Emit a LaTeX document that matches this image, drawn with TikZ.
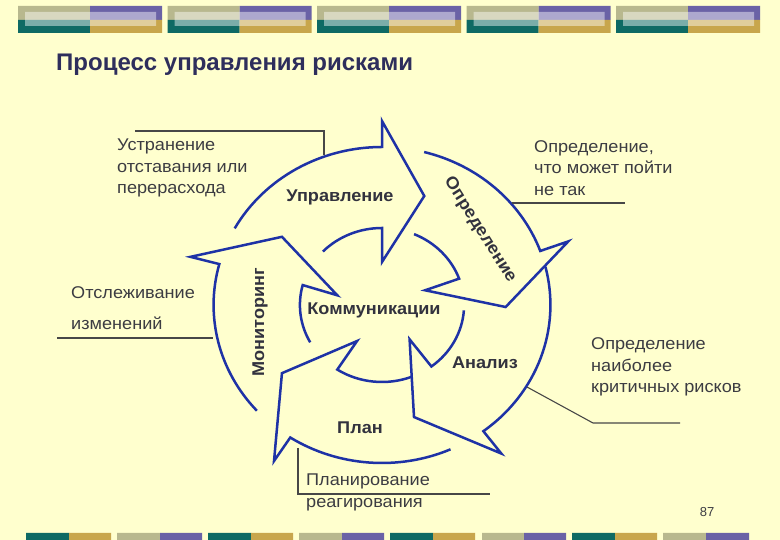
\documentclass[tikz,border=0pt]{standalone}
\usepackage{fontspec}
\setmainfont{Liberation Sans}
\newfontfamily\widefont[FakeStretch=1.066]{Liberation Sans}
\definecolor{slidebg}{RGB}{255,255,206}
\definecolor{arrowblue}{RGB}{30,50,166}
\definecolor{titlenavy}{RGB}{46,46,92}
\definecolor{notegray}{RGB}{60,60,66}
\definecolor{labelgray}{RGB}{50,50,62}
\definecolor{barsage}{RGB}{184,184,142}
\definecolor{barteal}{RGB}{14,106,100}
\definecolor{barpurple}{RGB}{106,98,166}
\definecolor{bargold}{RGB}{200,166,76}
\tikzset{
    x=1pt, y=1pt, % one unit is one pixel of the slide
    riskarrow/.style={draw=arrowblue, line width=2.5pt, line join=miter}, % the curved block arrows
    stage/.style={text=labelgray, font=\widefont\bfseries\fontsize{17}{20}\selectfont, inner sep=0pt}, % names of the stages
    note/.style={text=notegray, font=\widefont\fontsize{17}{21.5}\selectfont, align=left, inner sep=0pt}, % explanations round the cycle
    leader/.style={draw=black!72, line width=1.1pt}, % lines from the explanations
}
\begin{document}
\begin{tikzpicture}
\useasboundingbox (0,0) rectangle (780,540);
\fill[slidebg] (0,0) rectangle (780,540);
% top bar
\fill[barsage] (18,520) rectangle (90,534) (167.5,520) rectangle (239.5,534) (317,520) rectangle (389,534) (466.5,520) rectangle (538.5,534) (616,520) rectangle (688,534);
\fill[barteal] (18,507) rectangle (90,520) (167.5,507) rectangle (239.5,520) (317,507) rectangle (389,520) (466.5,507) rectangle (538.5,520) (616,507) rectangle (688,520);
\fill[barpurple] (90,520) rectangle (162,534) (239.5,520) rectangle (311.5,534) (389,520) rectangle (461,534) (538.5,520) rectangle (610.5,534) (688,520) rectangle (760,534);
\fill[bargold] (90,507) rectangle (162,520) (239.5,507) rectangle (311.5,520) (389,507) rectangle (461,520) (538.5,507) rectangle (610.5,520) (688,507) rectangle (760,520);
\fill[white, fill opacity=0.45] (25,514) rectangle (156,528) (174.5,514) rectangle (305.5,528) (324,514) rectangle (455,528) (473.5,514) rectangle (604.5,528) (623,514) rectangle (754,528);
% bottom bar
\fill[barteal] (26,0) rectangle (69,7) (208,0) rectangle (251,7) (390,0) rectangle (433,7) (572,0) rectangle (615,7);
\fill[bargold] (69,0) rectangle (111,7) (251,0) rectangle (293,7) (433,0) rectangle (475,7) (615,0) rectangle (657,7);
\fill[barsage] (117,0) rectangle (160,7) (299,0) rectangle (342,7) (482,0) rectangle (524,7) (663,0) rectangle (706,7);
\fill[barpurple] (160,0) rectangle (202,7) (342,0) rectangle (384,7) (524,0) rectangle (566,7) (706,0) rectangle (749,7);

\node[anchor=base west, text=titlenavy, font=\bfseries\fontsize{24}{28}\selectfont, inner sep=0pt] (title) at (56,469) {Процесс управления рисками};

% the cycle
\begin{scope}[shift={(382,235)}, xscale=1.066]
\draw[riskarrow] (151:158) arc[start angle=151, end angle=90, radius=158] -- (90:184) -- (70:116) -- (90:43) -- (90:77) arc[start angle=90, end angle=136, radius=77];
\draw[riskarrow] (75.5:158) arc[start angle=75.5, end angle=20, radius=158] -- (20:186) -- (-1:116) -- (20:43) -- (20:77) arc[start angle=20, end angle=67, radius=77];
\draw[riskarrow] (14:158) arc[start angle=14, end angle=-53, radius=158] -- (-53:186) -- (-75:116) -- (-53:43) -- (-53:77) arc[start angle=-53, end angle=-4, radius=77];
\draw[riskarrow] (-66:158) arc[start angle=-66, end angle=-123, radius=158] -- (-123:186) -- (-144:116) -- (-123:43) -- (-123:77) arc[start angle=-123, end angle=-69, radius=77];
\draw[riskarrow] (222:158) arc[start angle=222, end angle=165, radius=158] -- (165:186) -- (144:116) -- (167:43) -- (165:77) arc[start angle=165, end angle=209, radius=77];
\end{scope}

\node[stage] (manage) at (340,343) {Управление};
\node[stage, rotate=-57.7] (identify) at (480,310) {Определение};
\node[stage] (comm) at (374,230) {Коммуникации};
\node[stage] (analysis) at (485,177) {Анализ};
\node[stage] (plan) at (360,112) {План};
\node[stage, rotate=90] (monitor) at (260,218) {Мониторинг};

% explanations
\node[note, anchor=west] (fixnote) at (117,372) {Устранение\\отставания или\\перерасхода};
\node[note, anchor=west] (tracknote) at (71,231.5) {Отслеживание\\[9.5pt]изменений};
\node[note, anchor=west] (whatnote) at (534,372) {Определение,\\что может пойти\\не так};
\node[note, anchor=west] (critnote) at (591,173) {Определение\\наиболее\\критичных рисков};
\node[note, anchor=west] (respnote) at (306,47.5) {Планирование\\реагирования};
\node[text=notegray, font=\fontsize{13}{15}\selectfont, inner sep=0pt] (pagenum) at (707,28) {87};

\coordinate (fixa) at (135,409);
\coordinate (fixb) at (324,385);
\coordinate (tracka) at (57,202);
\coordinate (trackb) at (213,202);
\coordinate (whata) at (512,337);
\coordinate (whatb) at (625,337);
\coordinate (crita) at (527,153);
\coordinate (critb) at (593,117);
\coordinate (critc) at (680,117);
\coordinate (respa) at (298,92);
\coordinate (respb) at (490,46);
\draw[leader] (fixa) -| (fixb);
\draw[leader] (tracka) -- (trackb);
\draw[leader] (whata) -- (whatb);
\draw[leader] (crita) -- (critb) -- (critc);
\draw[leader] (respa) |- (respb);
\end{tikzpicture}
\end{document}
